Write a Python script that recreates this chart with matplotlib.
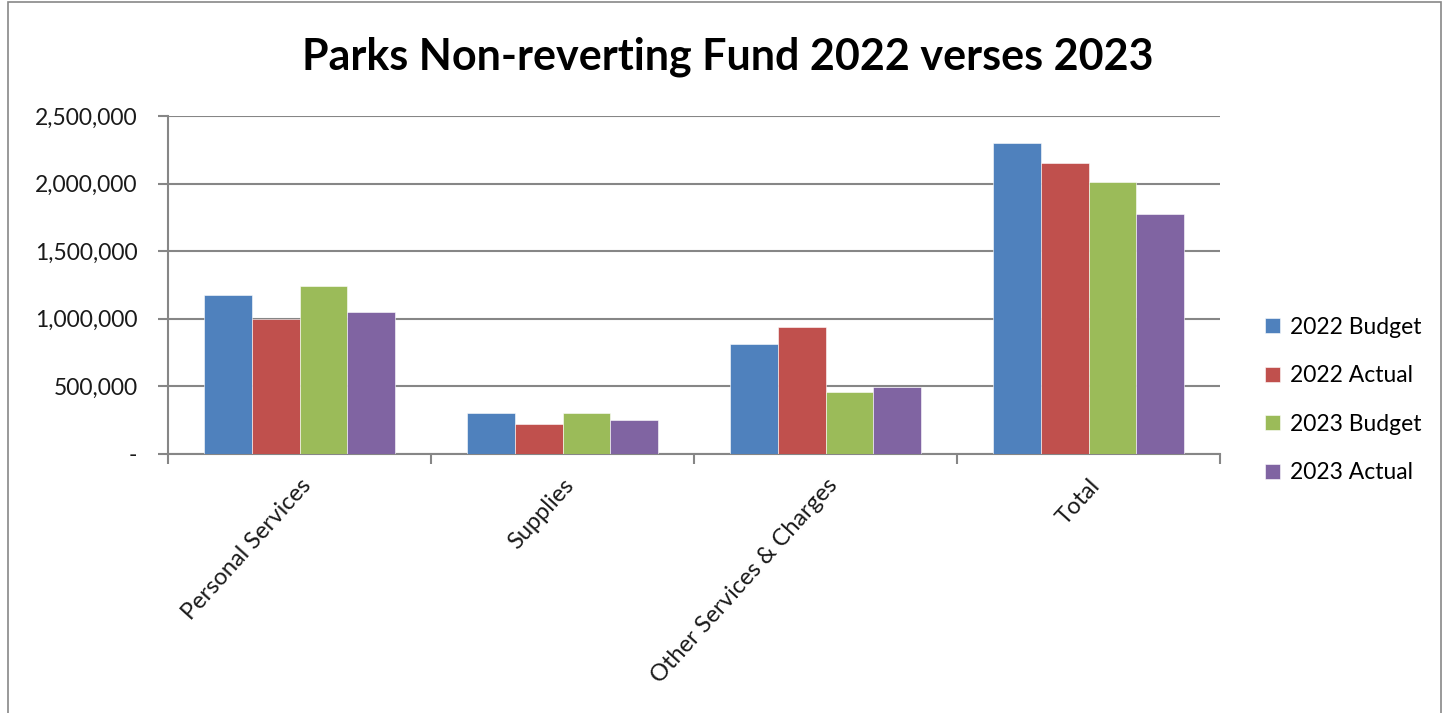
import numpy as np
import matplotlib
matplotlib.use('Agg')
from matplotlib import pyplot as plt
from matplotlib.patches import Rectangle
from matplotlib.ticker import FuncFormatter

categories = ['Personal Services', 'Supplies', 'Other Services & Charges', 'Total']
series_names = ['2022 Budget', '2022 Actual', '2023 Budget', '2023 Actual']
budget_2022 = [1178000, 302000, 816000, 2299000]
actual_2022 = [1000000, 219000, 937000, 2151000]
budget_2023 = [1246000, 302000, 460000, 2011000]
actual_2023 = [1049000, 249000, 496000, 1775000]
colors = ['#4F81BD', '#C0504D', '#9BBB59', '#8064A2']
y_ticks = [0, 500000, 1000000, 1500000, 2000000, 2500000]

plt.rcParams['font.family'] = ['Lato', 'DejaVu Sans']

fig = plt.figure(figsize=(14.5, 7.13), dpi=100)
# outer chart frame
fig.patches.append(Rectangle((8 / 1450, -0.1), (1441 - 8) / 1450, 1.1 - 2 / 713,
                             transform=fig.transFigure, fill=False,
                             edgecolor='#888888', lw=1.2))

ax = fig.add_axes([168 / 1450, 1 - 454 / 713, (1220 - 168) / 1450, (454 - 116) / 713])

n = len(series_names)
x = np.arange(len(categories))
w = 1 / 5.5
all_series = [budget_2022, actual_2022, budget_2023, actual_2023]
for i, (vals, name, c) in enumerate(zip(all_series, series_names, colors)):
    ax.bar(x + (i - (n - 1) / 2) * w, vals, width=w, color=c, label=name,
           edgecolor='white', linewidth=0.4, zorder=3)

ax.set_xlim(-0.5, len(categories) - 0.5)
ax.set_ylim(0, 2500000)
ax.set_yticks(y_ticks)
ax.yaxis.set_major_formatter(FuncFormatter(lambda v, p: '-' if v == 0 else f'{int(v):,}'))
ax.grid(axis='y', color='#868686', lw=1.5, zorder=0)

# category boundary ticks, labels at centres
ax.set_xticks(np.arange(len(categories) + 1) - 0.5)
ax.set_xticklabels([])
ax.set_xticks(x, minor=True)
ax.set_xticklabels(categories, minor=True, rotation=48, ha='right',
                   rotation_mode='anchor', fontsize=17, color='#1a1a1a')
ax.tick_params(axis='x', which='minor', length=0, pad=15)
ax.tick_params(axis='x', which='major', length=7, width=1.5, color='#868686')
ax.tick_params(axis='y', length=7, width=1.5, color='#868686', labelsize=16.5,
               labelcolor='#1a1a1a', pad=15)

for s in ['top', 'right']:
    ax.spines[s].set_visible(False)
for s in ['left', 'bottom']:
    ax.spines[s].set_color('#868686')
    ax.spines[s].set_linewidth(1.5)

fig.text(728 / 1450, 1 - 57 / 713, 'Parks Non-reverting Fund 2022 verses 2023',
         ha='center', va='center', fontsize=31, fontweight='bold', color='black')

ax.legend(loc='center left', bbox_to_anchor=(1244 / 1450, 1 - 400 / 713),
          bbox_transform=fig.transFigure, frameon=False, fontsize=16.5,
          handlelength=0.65, handleheight=0.65, handletextpad=0.45, labelspacing=1.2)

fig.savefig('out.png', dpi=100)
